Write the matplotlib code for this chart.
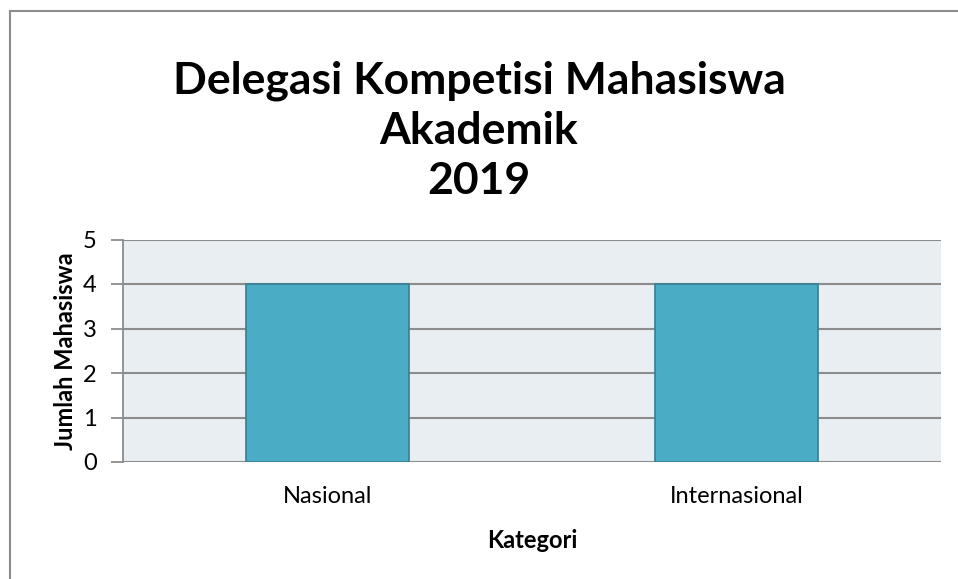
import numpy as np
import matplotlib.pyplot as plt

kategori = ['Nasional', 'Internasional']
jumlah = [4, 4]
yticks = [0, 1, 2, 3, 4, 5]

plt.rcParams['font.family'] = ['Lato', 'DejaVu Sans']

W, H = 958, 579
fig = plt.figure(figsize=(W / 100, H / 100), dpi=100)

# frame of the chart area (Excel style)
fig.patches.append(plt.Rectangle((9.5 / W, -0.05), 1.2, (H - 10.5) / H + 0.05,
                                 transform=fig.transFigure, fill=False,
                                 edgecolor='#8c8c8c', linewidth=1.5))

ax = fig.add_axes([123 / W, (H - 462) / H, (941 - 123) / W, (462 - 239.5) / H])
ax.set_facecolor('#e8eef2')

x = np.arange(len(kategori))
ax.bar(x, jumlah, width=0.4, color='#4bacc6', edgecolor='#357f94', linewidth=1.2, zorder=3)

ax.set_xlim(-0.5, 1.5)
ax.set_ylim(0, 5)
ax.set_yticks(yticks)
ax.set_xticks(x)
ax.set_xticklabels(kategori, fontsize=17)
ax.tick_params(axis='x', length=0, pad=17)
ax.tick_params(axis='y', length=9, color='#8c8c8c', width=1.3, labelsize=17, pad=10)
ax.grid(axis='y', color='#8c8c8c', linewidth=1.5, zorder=1)
for s in ['top', 'right', 'bottom']:
    ax.spines[s].set_visible(False)
ax.spines['left'].set_color('#8c8c8c')
ax.spines['left'].set_linewidth(1.3)

ax.set_ylabel('Jumlah Mahasiswa', fontsize=17, fontweight='bold', labelpad=4)
ax.set_xlabel('Kategori', fontsize=17, fontweight='bold', labelpad=16)

fig.text(0.5, 1 - 81 / H, 'Delegasi Kompetisi Mahasiswa', ha='center', va='center',
         fontsize=32, fontweight='bold')
fig.text(0.5, 1 - 131 / H, 'Akademik', ha='center', va='center',
         fontsize=32, fontweight='bold')
fig.text(0.5, 1 - 181 / H, '2019', ha='center', va='center',
         fontsize=32, fontweight='bold')

fig.savefig('out.png', dpi=100)
